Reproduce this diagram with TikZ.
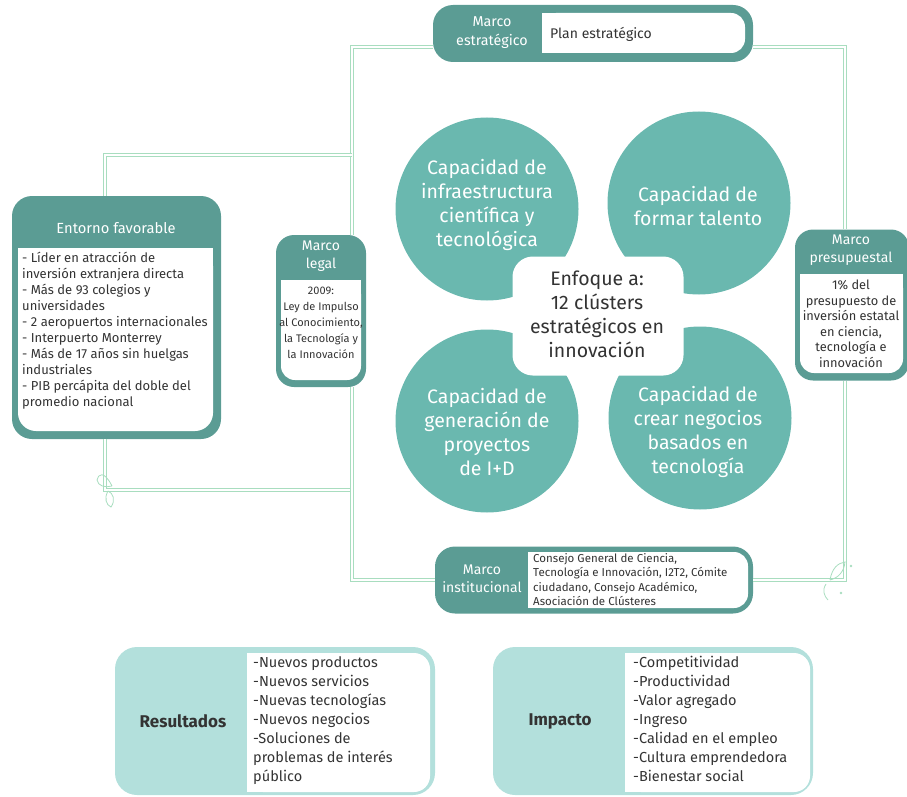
\documentclass[tikz,border=0pt]{standalone}
\usepackage{fontspec}
\setmainfont{Fira Sans}
\definecolor{dteal}{HTML}{5B9C94}
\definecolor{cteal}{HTML}{6AB8AF}
\definecolor{lteal}{HTML}{B3E0DC}
\definecolor{lgreen}{HTML}{A8DDBF}
\definecolor{txt}{HTML}{333333}
\begin{document}
\begin{tikzpicture}[x=1pt,y=-1pt,
 frame/.style={fill=dteal, rounded corners=20pt, inner sep=0pt},
 lframe/.style={fill=lteal, rounded corners=22pt, inner sep=0pt},
 circ/.style={circle, fill=cteal, inner sep=0pt, minimum size=183pt},
 ctext/.style={text=white, align=center, inner sep=0pt, font=\fontsize{19.5}{24}\selectfont},
 hdr/.style={text=white, align=center, inner sep=0pt, font=\fontsize{14}{18}\selectfont},
 body/.style={text=txt, inner sep=0pt, font=\fontsize{13}{16}\selectfont},
 list/.style={text=txt, inner sep=0pt, align=left, font=\fontsize{14.5}{19}\selectfont},
 link/.style={draw=lgreen, line width=0.9pt, double=white, double distance=2.6pt},
 leaf/.style={draw=lgreen, line width=0.8pt},
]
\useasboundingbox (0,0) rectangle (907,797);

% ---- junction points of the connectors ----
\coordinate (jtl) at (352,47);
\coordinate (jtr) at (845,47);
\coordinate (jml) at (352,155);
\coordinate (jel) at (105,155);
\coordinate (jbl) at (105,490);
\coordinate (jbm) at (352,490);
\coordinate (jil) at (352,580);
\coordinate (jbr) at (845,580);

% ---- frames ----
\node[frame, minimum width=320pt, minimum height=57pt] (estr) at (593,33.5) {};
\node[frame, minimum width=209pt, minimum height=243pt] (ent) at (116.5,317.5) {};
\node[frame, minimum width=90pt, minimum height=152pt, rounded corners=18pt] (legal) at (321,311) {};
\node[frame, minimum width=114pt, minimum height=151pt, rounded corners=18pt] (presu) at (852,305) {};
\node[frame, minimum width=318pt, minimum height=67pt] (inst) at (594,580) {};
\node[lframe, minimum width=320pt, minimum height=148pt] (res) at (275,721) {};
\node[lframe, minimum width=320pt, minimum height=148pt] (imp) at (653,721) {};

\draw[link] (jtl -| estr.west) -- (jtl) -- (jtl |- legal.north);
\draw[link] (jml) -- (jel) -- (jel |- ent.north);
\draw[link] (jtr -| estr.east) -- (jtr) -- (jtr |- presu.north);
\draw[link] (jbl |- ent.south) -- (jbl) -- (jbm);
\draw[link] (jbm |- legal.south) -- (jil) -- (jil -| inst.west);
\draw[link] (jbr |- presu.south) -- (jbr) -- (jbr -| inst.east);

% leaves
\draw[leaf] (112,486) .. controls (104,470) and (98,474) .. (97,480) .. controls (98,486) and (105,488) .. (112,486);
\draw[leaf] (108,491) .. controls (104,498) and (106,505) .. (111,507) .. controls (116,500) and (113,493) .. (108,491);
\draw[leaf] (830,580) .. controls (832,568) and (838,563) .. (845,562) .. controls (844,572) and (838,578) .. (830,580);
\draw[leaf] (826,584) .. controls (822,590) and (824,596) .. (828,600);
\fill[lgreen] (841,593) circle (1.3pt) (851,566) circle (1.3pt);

% ---- white inner panels ----
\fill[white, rounded corners=14pt] (542,13) rectangle (745,53);
\fill[white] (542,13) rectangle (600,53);
\fill[white, rounded corners=18pt] (18,248) rectangle (213,431);
\fill[white] (18,248) rectangle (213,300);
\fill[white, rounded corners=14pt] (281,280) rectangle (361,380);
\fill[white] (281,280) rectangle (361,320);
\fill[white, rounded corners=14pt] (800,274) rectangle (903,373);
\fill[white] (800,274) rectangle (903,320);
\fill[white, rounded corners=14pt] (528,552) rectangle (748,608);
\fill[white] (528,552) rectangle (580,608);
\fill[white, rounded corners=16pt] (247,653) rectangle (430,792);
\fill[white] (247,653) rectangle (300,792);
\fill[white, rounded corners=16pt] (625,653) rectangle (810,792);
\fill[white] (625,653) rectangle (680,792);

% ---- texts in frames ----
\node[hdr, font=\fontsize{14.3}{19}\selectfont] (estrh) at (492,33) {Marco\\estratégico};
\node[text=txt, inner sep=0pt, anchor=west, font=\fontsize{14}{17}\selectfont] (estrt) at (550,34) {Plan estratégico};

\node[hdr, font=\fontsize{14.7}{17}\selectfont] (enth) at (116,228) {Entorno favorable};
\node[body, align=left, anchor=north west] (entt) at (22,252) {- Líder en atracción de\\inversión extranjera directa\\- Más de 93 colegios y\\universidades\\- 2 aeropuertos internacionales\\- Interpuerto Monterrey\\- Más de 17 años sin huelgas\\industriales\\- PIB percápita del doble del\\promedio nacional};

\node[hdr] (legalh) at (321,256) {Marco\\legal};
\node[body, align=center, anchor=north, font=\fontsize{11}{16}\selectfont] (legalt) at (321,287) {2009:\\Ley de Impulso\\al Conocimiento,\\la Tecnología y\\la Innovación};

\node[hdr] (presuh) at (851,250) {Marco\\presupuestal};
\node[body, align=center, anchor=north, font=\fontsize{12.8}{15.5}\selectfont] (presut) at (851,280) {1\% del\\presupuesto de\\inversión estatal\\en ciencia,\\tecnología e\\innovación};

\node[hdr] (insth) at (482,579) {Marco\\institucional};
\node[body, align=left, anchor=north west, font=\fontsize{11.5}{14.5}\selectfont] (instt) at (533,553) {Consejo General de Ciencia,\\Tecnología e Innovación, I2T2, Cómite\\ciudadano, Consejo Académico,\\Asociación de Clústeres};

\node[text=txt, inner sep=0pt, font=\fontsize{17}{20}\selectfont\bfseries] (resh) at (183,721) {Resultados};
\node[list, anchor=north west] (rest) at (253,656) {-Nuevos productos\\-Nuevos servicios\\-Nuevas tecnologías\\-Nuevos negocios\\-Soluciones de\\problemas de interés\\público};

\node[text=txt, inner sep=0pt, font=\fontsize{17}{20}\selectfont\bfseries] (imph) at (560,721) {Impacto};
\node[list, anchor=north west] (impt) at (633,656) {-Competitividad\\-Productividad\\-Valor agregado\\-Ingreso\\-Calidad en el empleo\\-Cultura emprendedora\\-Bienestar social};

% ---- circles ----
\node[circ] (c1) at (487,209) {};
\node[circ] (c2) at (699,203) {};
\node[circ] (c3) at (487,421) {};
\node[circ] (c4) at (700,418) {};
\node[ctext] (c1t) at (487,205) {Capacidad de\\infraestructura\\científica y\\tecnológica};
\node[ctext] (c2t) at (698,206) {Capacidad de\\formar talento};
\node[ctext] (c3t) at (487,432) {Capacidad de\\generación de\\proyectos\\de I+D};
\node[ctext] (c4t) at (698,432) {Capacidad de\\crear negocios\\basados en\\tecnología};

\node[fill=white, draw=white, line width=9pt, rounded corners=16pt, minimum width=162pt, minimum height=110pt, inner sep=0pt] (enf) at (598,316) {};
\node[text=txt, align=center, inner sep=0pt, font=\fontsize{19.5}{24}\selectfont] (enft) at (597,314) {Enfoque a:\\12 clústers\\estratégicos en\\innovación};
\end{tikzpicture}
\end{document}
